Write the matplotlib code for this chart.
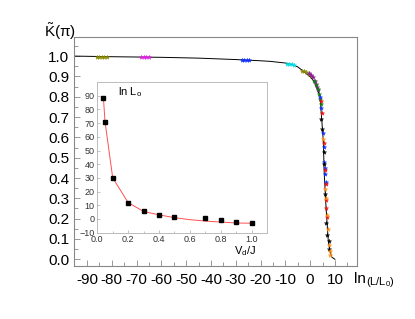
import matplotlib
matplotlib.use("Agg")
import matplotlib.pyplot as plt
from matplotlib.ticker import MultipleLocator

plt.rcParams['font.family'] = ['Liberation Sans', 'DejaVu Sans']
plt.rcParams['mathtext.fontset'] = 'custom'
plt.rcParams['mathtext.rm'] = 'Liberation Sans'
plt.rcParams['mathtext.it'] = 'Liberation Sans'

# Main curve (scaling function)
curve_x = [-95, -80, -60, -45, -30, -20, -16, -10, -7.5, -5, -2.8, 0, 1.5, 2.6, 4, 4.6, 5.3, 5.7, 6.4, 7.3, 8.0, 8.7, 10]
curve_y = [1.0, 0.997, 0.994, 0.99, 0.983, 0.977, 0.974, 0.966, 0.959, 0.947, 0.926, 0.898, 0.878, 0.849, 0.80, 0.70, 0.586, 0.42, 0.258, 0.094, 0.04, 0.011, 0.0]

# Coloured data sets (ln(L/L0), K)
olive1_x = [-86, -85, -84, -83, -82]
olive1_y = [0.996, 0.996, 0.996, 0.996, 0.996]
mag_x = [-68, -67, -66, -65]
mag_y = [0.995, 0.995, 0.995, 0.995]
blue1_x = [-27.5, -26.5, -25.5, -24.5]
blue1_y = [0.982, 0.981, 0.981, 0.98]
cyan_x = [-9.4, -8.5, -7.5, -6.5]
cyan_y = [0.962, 0.961, 0.959, 0.957]
olive2_x = [-3.3, -2.5, -1.5, -0.5, 0.2]
olive2_y = [0.929, 0.927, 0.922, 0.912, 0.902]
purple_x = [-0.5, 0.5, 1.2, 1.8, 2.3, 2.8, 3.2]
purple_y = [0.915, 0.906, 0.895, 0.878, 0.862, 0.848, 0.835]
green_x = [1.5, 2.3, 3.0, 3.6, 4.0, 4.3]
green_y = [0.875, 0.858, 0.838, 0.812, 0.79, 0.765]
blue2_x = [4.0, 4.4, 5.3, 5.5, 5.6, 5.8, 5.9, 6.2]
blue2_y = [0.80, 0.745, 0.62, 0.555, 0.48, 0.45, 0.42, 0.38]
red_x = [4.2, 4.6, 5.4, 5.9, 6.2, 6.4, 6.6, 7.0]
red_y = [0.78, 0.72, 0.57, 0.44, 0.37, 0.29, 0.25, 0.21]
black_x = [4.5, 4.9, 5.5, 5.7, 6.1, 6.6, 7.0, 7.5, 7.8]
black_y = [0.69, 0.64, 0.53, 0.47, 0.32, 0.18, 0.12, 0.09, 0.05]
orange_x = [5.2, 6.1, 6.4, 6.7, 7.1, 7.5, 8.0, 8.2]
orange_y = [0.59, 0.345, 0.3, 0.22, 0.15, 0.07, 0.04, 0.02]

# Inset data
inset_x = [0.04, 0.05, 0.1, 0.2, 0.3, 0.4, 0.5, 0.7, 0.8, 0.9, 1.0]
inset_y = [88, 71, 30, 12, 5.5, 3, 1.5, 1.0, -1.0, -2.0, -3.0]
fit_x = [0.04, 0.05, 0.1, 0.2, 0.3, 0.4, 0.5, 0.6, 0.7, 0.8, 0.9, 1.0]
fit_y = [88, 71, 30, 12, 5.5, 3, 1.0, -0.5, -1.5, -2.2, -2.9, -3.1]

fig = plt.figure(figsize=(4.15, 3.19), dpi=100)
ax = fig.add_axes([74/415, 1 - 266/319, (357-74)/415, (266-37)/319])

ax.plot(curve_x, curve_y, color="black", lw=0.7, zorder=2)
sets = [
    (olive1_x, olive1_y, "#8b8b00"),
    (mag_x, mag_y, "#e020e0"),
    (blue1_x, blue1_y, "#1030ff"),
    (cyan_x, cyan_y, "#00e0e8"),
    (olive2_x, olive2_y, "#8b8b00"),
    (purple_x, purple_y, "#8a1a9a"),
    (green_x, green_y, "#108010"),
    (blue2_x, blue2_y, "#1030ff"),
    (red_x, red_y, "#ee1010"),
    (black_x, black_y, "#000000"),
    (orange_x, orange_y, "#ff8c10"),
]
for xs, ys, c in sets:
    ax.plot(xs, ys, linestyle="none", marker="*", ms=3.2, mew=0.3, color=c, zorder=3)

ax.set_xlim(-95.2, 18.9)
ax.set_ylim(-0.033, 1.094)
ax.xaxis.set_minor_locator(MultipleLocator(5))
ax.yaxis.set_minor_locator(MultipleLocator(0.05))
ax.set_xticks(range(-90, 11, 10))
ax.set_xticklabels([str(v) for v in range(-90, 11, 10)])
ax.set_yticks([i / 10 for i in range(0, 11)])
ax.set_yticklabels(["%.1f" % (i / 10) for i in range(0, 11)])
ax.tick_params(which="both", direction="in", color="#888888", labelsize=11, length=4, width=0.6)
ax.tick_params(which="minor", length=3)
ax.tick_params(axis="x", pad=5)
for s in ax.spines.values():
    s.set_color("#888888")
    s.set_linewidth(0.8)
fig.text(60/415, 1 - 32/319, r"$\tilde{\mathrm{K}}$(π)", fontsize=11, ha="center", va="center")
fig.text(354/415, 1 - 279/319, "ln", fontsize=11, ha="left", va="center")
fig.text(366/415, 1 - 282/319, "(L/L$_0$)", fontsize=8, ha="left", va="center")

# Inset
ins = fig.add_axes([97.3/415, 1 - 232.7/319, (267-97.3)/415, (232.7-82)/319])
ins.plot(fit_x, fit_y, color="#ff5050", lw=0.7, zorder=2)
ins.plot(inset_x, inset_y, linestyle="none", marker="s", ms=2.6, color="black", zorder=3)
ins.set_xlim(0, 1.1)
ins.set_ylim(-10, 100)
ins.xaxis.set_major_locator(MultipleLocator(0.2))
ins.xaxis.set_minor_locator(MultipleLocator(0.1))
ins.set_yticks(range(-10, 91, 10))
ins.tick_params(which="both", direction="in", color="#aaaaaa", labelsize=6.5, length=2.5, width=0.5, pad=2, labelcolor="#333333")
ins.tick_params(which="minor", length=1.5)
for s in ins.spines.values():
    s.set_color("#bbbbbb")
    s.set_linewidth(0.7)
ins.text(0.12, 0.93, "ln L$_o$", transform=ins.transAxes, fontsize=8, ha="left", va="center")
fig.text(234/415, 1 - 251/319, "V$_d$/J", fontsize=8, ha="left", va="center")

fig.savefig("out.png", dpi=100)
